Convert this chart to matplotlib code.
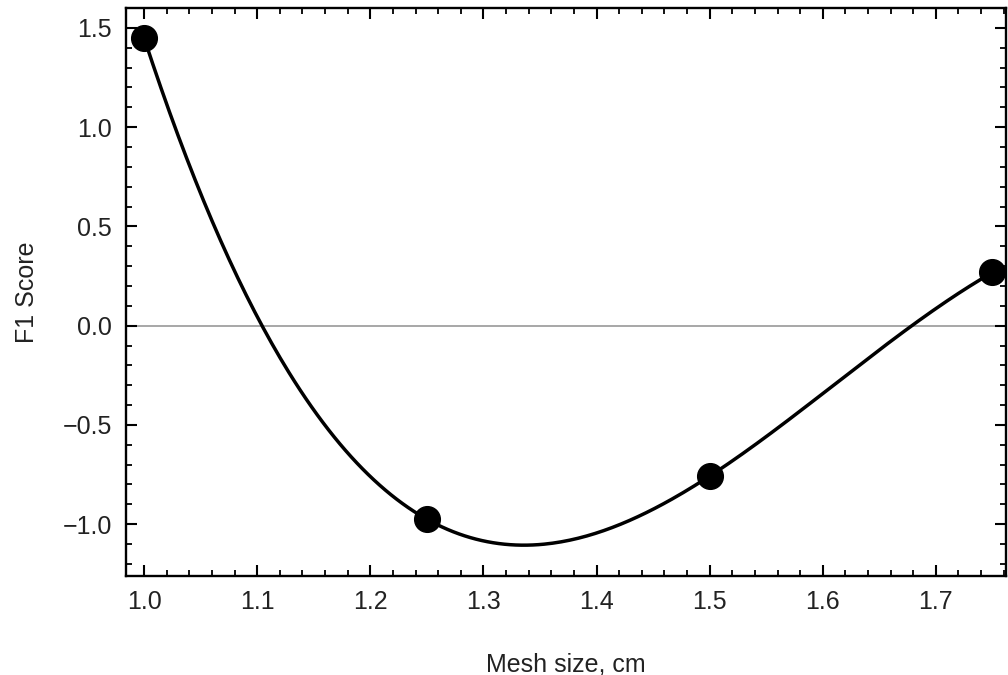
import numpy as np
import matplotlib.pyplot as plt
from matplotlib.ticker import MultipleLocator

# ── Data ──────────────────────────────────────────────
mesh_size = [1.00, 1.25, 1.50, 1.75]
f1_score = [1.45, -0.975, -0.758, 0.268]

plt.rcParams["font.family"] = ["Liberation Sans", "DejaVu Sans"]
plt.rcParams["font.size"] = 18

fig = plt.figure(figsize=(10.08, 6.75), dpi=100)
ax = fig.add_axes([0.125, 0.147, 0.873, 0.841])

# cubic interpolating curve through the four points
coef = np.polyfit(mesh_size, f1_score, 3)
xs = np.linspace(mesh_size[0], mesh_size[-1], 300)
ax.plot(xs, np.polyval(coef, xs), color="black", linewidth=2.5, zorder=3)
ax.plot(mesh_size, f1_score, "o", color="black", markersize=18.5,
        clip_on=False, zorder=4)
ax.axhline(0, color="#a0a0a0", linewidth=1.3, zorder=1)

ax.set_xlim(0.984, 1.762)
ax.set_ylim(-1.26, 1.60)
ax.xaxis.set_major_locator(MultipleLocator(0.1))
ax.xaxis.set_minor_locator(MultipleLocator(0.02))
ax.yaxis.set_major_locator(MultipleLocator(0.5))
ax.yaxis.set_minor_locator(MultipleLocator(0.1))
ax.yaxis.set_major_formatter(
    plt.FuncFormatter(lambda v, p: f"{v:.1f}".replace("-", "\u2212")))

ax.tick_params(which="both", direction="in", top=True, right=True,
               colors="black", labelcolor="#222222")
ax.tick_params(which="major", length=8, width=1.5, pad=10)
ax.tick_params(which="minor", length=4.5, width=1.3)
for s in ax.spines.values():
    s.set_linewidth(1.7)
    s.set_color("black")

ax.set_xlabel("Mesh size, cm", color="#222222", labelpad=28)
ax.set_ylabel("F1 Score", color="#222222", labelpad=17)

fig.savefig("out.png", dpi=100)
